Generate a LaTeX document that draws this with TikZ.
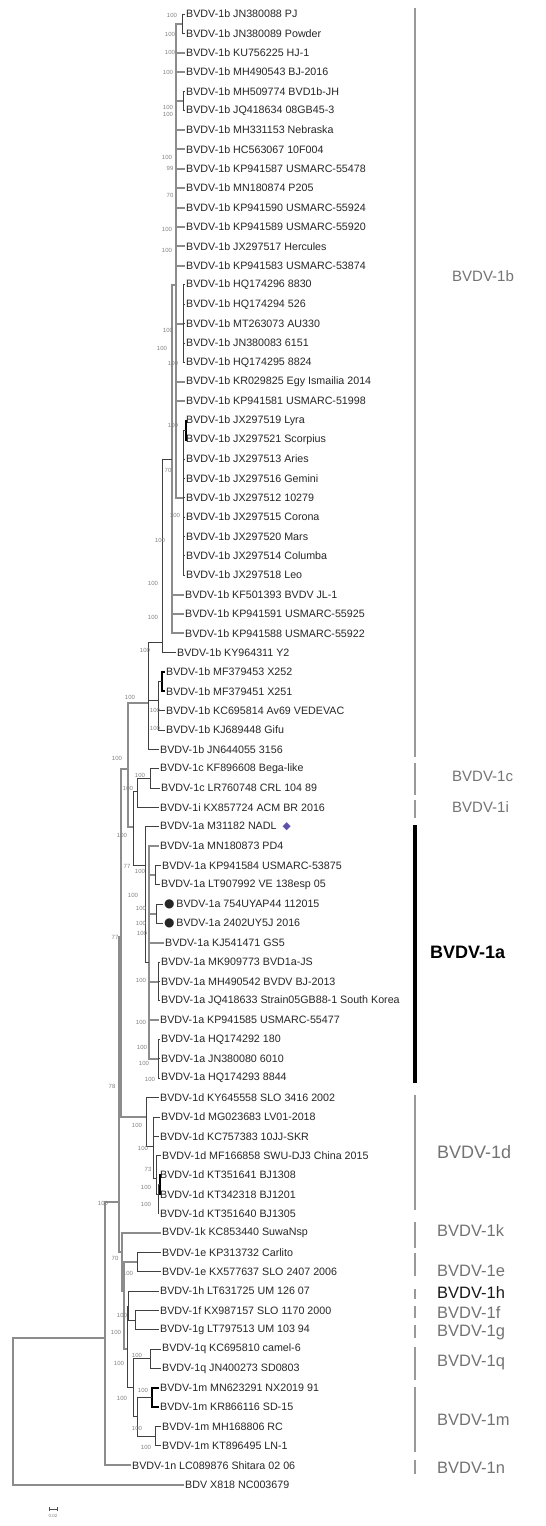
\documentclass[tikz,border=0pt]{standalone}
\usepackage{fontspec}
\setmainfont{Liberation Sans}
\newfontfamily\symfont{DejaVu Sans}
\usepackage{xcolor}
\usetikzlibrary{positioning,calc}

\definecolor{diam}{RGB}{95,80,170}
\newcommand\rowy[1]{14+19.35*(#1-1)}
\newcommand\bnode[3]{\coordinate (#1) at (#2,{\rowy{#3}});}

\begin{document}
\begin{tikzpicture}[
  x=1pt, y=-1pt,
  leaf/.style={anchor=west, inner xsep=1.5pt, inner ysep=0pt, font=\fontsize{10.7}{12}\selectfont, text=black!85},
  br/.style={draw=black!75, line width=0.9pt},
  brt/.style={draw=black!45, line width=2pt},
  brk/.style={draw=black, line width=1.6pt},
  bs/.style={font=\fontsize{6}{7}\selectfont, text=black!50, inner sep=0pt},
  bar/.style={draw=black!40, line width=1.6pt},
  clade/.style={anchor=west, inner sep=0pt, text=black!55, font=\fontsize{16.5}{18}\selectfont}
]
\useasboundingbox (0,0) rectangle (546,1526);

% taxa
\foreach \i/\x/\t in {
  1/186/{BVDV-1b JN380088 PJ}, 2/186/{BVDV-1b JN380089 Powder}, 3/186/{BVDV-1b KU756225 HJ-1},
  4/186/{BVDV-1b MH490543 BJ-2016}, 5/186/{BVDV-1b MH509774 BVD1b-JH}, 6/186/{BVDV-1b JQ418634 08GB45-3},
  7/186/{BVDV-1b MH331153 Nebraska}, 8/186/{BVDV-1b HC563067 10F004}, 9/186/{BVDV-1b KP941587 USMARC-55478},
  10/186/{BVDV-1b MN180874 P205}, 11/186/{BVDV-1b KP941590 USMARC-55924}, 12/186/{BVDV-1b KP941589 USMARC-55920},
  13/186/{BVDV-1b JX297517 Hercules}, 14/186/{BVDV-1b KP941583 USMARC-53874}, 15/186/{BVDV-1b HQ174296 8830},
  16/186/{BVDV-1b HQ174294 526}, 17/186/{BVDV-1b MT263073 AU330}, 18/186/{BVDV-1b JN380083 6151},
  19/186/{BVDV-1b HQ174295 8824}, 20/186/{BVDV-1b KR029825 Egy Ismailia 2014}, 21/186/{BVDV-1b KP941581 USMARC-51998},
  22/186/{BVDV-1b JX297519 Lyra}, 23/186/{BVDV-1b JX297521 Scorpius}, 24/186/{BVDV-1b JX297513 Aries},
  25/186/{BVDV-1b JX297516 Gemini}, 26/186/{BVDV-1b JX297512 10279}, 27/186/{BVDV-1b JX297515 Corona},
  28/186/{BVDV-1b JX297520 Mars}, 29/186/{BVDV-1b JX297514 Columba}, 30/186/{BVDV-1b JX297518 Leo},
  31/185/{BVDV-1b KF501393 BVDV JL-1}, 32/185/{BVDV-1b KP941591 USMARC-55925}, 33/185/{BVDV-1b KP941588 USMARC-55922},
  34/177/{BVDV-1b KY964311 Y2}, 35/166/{BVDV-1b MF379453 X252}, 36/166/{BVDV-1b MF379451 X251},
  37/166/{BVDV-1b KC695814 Av69 VEDEVAC}, 38/166/{BVDV-1b KJ689448 Gifu}, 39/160/{BVDV-1b JN644055 3156},
  40/160/{BVDV-1c KF896608 Bega-like}, 41/161/{BVDV-1c LR760748 CRL 104 89}, 42/160/{BVDV-1i KX857724 ACM BR 2016},
  43/160/{BVDV-1a M31182 NADL \ {\symfont\color{diam}◆}}, 44/160/{BVDV-1a MN180873 PD4},
  45/162/{BVDV-1a KP941584 USMARC-53875}, 46/161/{BVDV-1a LT907992 VE 138esp 05},
  47/164/{{\symfont\fontsize{12}{12}\selectfont ●}\,BVDV-1a 754UYAP44 112015},
  48/164/{{\symfont\fontsize{12}{12}\selectfont ●}\,BVDV-1a 2402UY5J 2016},
  49/165/{BVDV-1a KJ541471 GS5}, 50/161/{BVDV-1a MK909773 BVD1a-JS}, 51/161/{BVDV-1a MH490542 BVDV BJ-2013},
  52/161/{BVDV-1a JQ418633 Strain05GB88-1 South Korea}, 53/160/{BVDV-1a KP941585 USMARC-55477},
  54/161/{BVDV-1a HQ174292 180}, 55/161/{BVDV-1a JN380080 6010}, 56/161/{BVDV-1a HQ174293 8844},
  57/160/{BVDV-1d KY645558 SLO 3416 2002}, 58/161/{BVDV-1d MG023683 LV01-2018}, 59/160/{BVDV-1d KC757383 10JJ-SKR},
  60/162/{BVDV-1d MF166858 SWU-DJ3 China 2015}, 61/160/{BVDV-1d KT351641 BJ1308}, 62/160/{BVDV-1d KT342318 BJ1201},
  63/160/{BVDV-1d KT351640 BJ1305}, 64/162/{BVDV-1k KC853440 SuwaNsp}, 65/162/{BVDV-1e KP313732 Carlito},
  66/162/{BVDV-1e KX577637 SLO 2407 2006}, 67/160/{BVDV-1h LT631725 UM 126 07}, 68/160/{BVDV-1f KX987157 SLO 1170 2000},
  69/160/{BVDV-1g LT797513 UM 103 94}, 70/162/{BVDV-1q KC695810 camel-6}, 71/162/{BVDV-1q JN400273 SD0803},
  72/160/{BVDV-1m MN623291 NX2019 91}, 73/160/{BVDV-1m KR866116 SD-15}, 74/162/{BVDV-1m MH168806 RC},
  75/162/{BVDV-1m KT896495 LN-1}, 76/132/{BVDV-1n LC089876 Shitara 02 06}, 77/185/{BDV X818 NC003679}}
  \node[leaf] (l\i) at (\x-1.5,{\rowy{\i}}) {\t};

% internal nodes: name, x, row
\bnode{a12}{182}{1.5}   \bnode{a56}{183}{5.5}   \bnode{a1519}{183}{17}
\bnode{a2223}{186}{22.5} \bnode{a2230}{183}{26} \bnode{core}{176}{15}
\bnode{b1}{172}{24}     \bnode{b2}{162}{33.5}   \bnode{b35}{162}{35.5}
\bnode{b3538}{158}{36.5} \bnode{b1b}{148}{36.6}
\bnode{c1c}{150}{40.5}  \bnode{c1ci}{137}{41.2}
\bnode{d4546}{155}{45.5} \bnode{d4748}{156}{47.5} \bnode{d5052}{158}{51}
\bnode{d5456}{158}{55}  \bnode{d1a2}{149}{50}   \bnode{d1a}{145}{45}
\bnode{ecia}{133}{43}   \bnode{ebcia}{128}{40}  \bnode{xa}{121}{48.7}
\bnode{f6162}{160}{61.5} \bnode{f6163}{158}{62} \bnode{f6063}{156}{61.2}
\bnode{f5863}{153}{59.5} \bnode{f1d}{146}{58}
\bnode{g1e}{137}{65.5}  \bnode{g1fg}{135}{68.5} \bnode{g1hfg}{128}{67.8}
\bnode{g1q}{150}{70.5}  \bnode{g1m1}{152}{72.5} \bnode{g1m2}{155}{74.5}
\bnode{g1m}{137}{73.5}  \bnode{gqm}{133}{72}    \bnode{ghq}{127}{70}
\bnode{gehq}{124}{67}   \bnode{gk}{122}{65}     \bnode{nall}{119}{62.4}
\bnode{nf}{105}{69.4}   \bnode{root}{13}{73}

% branches
\foreach \p/\cs/\s in {
  a12/{l1,l2}/br, a56/{l5,l6}/br, a1519/{l15,l16,l17,l18,l19}/br, a2223/{l22,l23}/brk,
  a2230/{a2223,l24,l25,l26,l27,l28,l29,l30}/br,
  core/{a12,l3,l4,a56,l7,l8,l9,l10,l11,l12,l13,l14,a1519,l20,l21,a2230}/brt,
  b1/{core,l31,l32,l33}/brt, b2/{b1,l34}/br, b35/{l35,l36}/brk, b3538/{b35,l37,l38}/br,
  b1b/{b2,b3538,l39}/br, c1c/{l40,l41}/br, c1ci/{c1c,l42}/br,
  d4546/{l45,l46}/br, d4748/{l47,l48}/br, d5052/{l50,l51,l52}/br, d5456/{l54,l55,l56}/br,
  d1a2/{l44,d4546,d4748,l49,d5052,l53,d5456}/brt, d1a/{l43,d1a2}/br,
  ecia/{c1ci,d1a}/br, ebcia/{b1b,ecia}/brt, xa/{ebcia,f1d}/brt,
  f6162/{l61,l62}/brk, f6163/{f6162,l63}/br, f6063/{l60,f6163}/br,
  f5863/{l58,l59,f6063}/br, f1d/{l57,f5863}/br,
  g1e/{l65,l66}/br, g1fg/{l68,l69}/br, g1hfg/{l67,g1fg}/br, g1q/{l70,l71}/br,
  g1m1/{l72,l73}/brk, g1m2/{l74,l75}/br, g1m/{g1m1,g1m2}/br, gqm/{g1q,g1m}/br,
  ghq/{g1hfg,gqm}/br, gehq/{g1e,ghq}/brt, gk/{l64,gehq}/brt, nall/{xa,gk}/brt,
  nf/{nall,l76}/brt, root/{nf,l77}/brt}
  \foreach \c in \cs \draw[\s] (\p) |- (\c);

% bootstrap values
\foreach \x/\y/\v [count=\n] in {
  172/15/100, 170/34/100, 170/52/100, 168/72/100, 168/107/100, 168/114/100, 167/157/100,
  170/168/99, 170/195/70, 167/229/100, 167/250/100, 168/330/100, 162/348/100, 173/363/100,
  173/425/100, 168/470/70, 175/515/100, 160/540/100, 153/583/100, 153/617/100, 145/650/100,
  130/697/100, 155/710/100, 155/728/100, 117/758/100, 140/775/100, 128/788/100, 122/835/100,
  127/866/77, 140/871/100, 133/895/100, 141/908/100, 141/923/100, 142/933/100, 115/937/77,
  141/980/100, 141/1022/100, 142/1047/100, 144/1063/100, 150/1079/100, 112/1086/78,
  137/1125/100, 143/1148/100, 148/1169/73, 146/1187/100, 146/1204/100, 103/1203/100,
  115/1258/70, 128/1273/100, 122/1315/100, 116/1332/100, 137/1355/100, 119/1363/100,
  143/1390/100, 122/1398/100, 137/1428/100, 146/1447/100}
  \node[bs] (bs\n) at (\x,\y) {\v};

% genotype bars
\foreach \a/\b in {8/757, 763/795, 800/818, 1095/1210, 1222/1248, 1253/1276, 1289/1299,
  1306/1318, 1325/1338, 1347/1380, 1387/1452, 1460/1474}
  \draw[bar] (415,\a) -- (415,\b);
\draw[line width=4.5pt] (415,825) -- (415,1083);

\node[clade, font=\fontsize{15}{17}\selectfont] (g1b) at (452,276) {BVDV-1b};
\node[clade, font=\fontsize{15}{17}\selectfont] (g1c) at (452,776) {BVDV-1c};
\node[clade, font=\fontsize{15}{17}\selectfont] (g1i) at (452,807) {BVDV-1i};
\node[clade, text=black, font=\fontsize{18}{20}\selectfont\bfseries] (g1a) at (430,952) {BVDV-1a};
\node[clade, font=\fontsize{18}{20}\selectfont] (g1d) at (437,1152) {BVDV-1d};
\node[clade] (g1k) at (437,1231) {BVDV-1k};
\node[clade] (g1eL) at (437,1271) {BVDV-1e};
\node[clade, text=black!90] (g1h) at (437,1293) {BVDV-1h};
\node[clade] (g1f) at (437,1313) {BVDV-1f};
\node[clade] (g1g) at (437,1333) {BVDV-1g};
\node[clade] (g1qL) at (437,1363) {BVDV-1q};
\node[clade] (g1mL) at (437,1420) {BVDV-1m};
\node[clade] (g1n) at (437,1468) {BVDV-1n};

% scale
\draw[black!70, line width=0.5pt] (49,1507) -- (49,1511) (49,1509) -- (57,1509) (57,1507) -- (57,1511);
\node[bs, font=\fontsize{4.5}{5}\selectfont] (scl) at (53,1516) {0.02};
\end{tikzpicture}
\end{document}
